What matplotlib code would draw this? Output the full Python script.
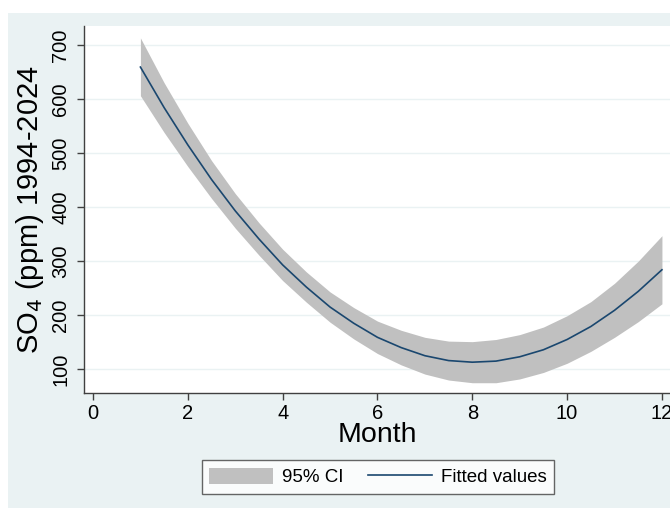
import matplotlib
matplotlib.use("Agg")
import matplotlib.pyplot as plt
from matplotlib.patches import Rectangle, Patch
from matplotlib.lines import Line2D

plt.rcParams['font.family'] = ['Liberation Sans', 'DejaVu Sans']

# Quadratic fit of monthly SO4 with its 95% confidence band
month = [1, 1.5, 2, 2.5, 3, 3.5, 4, 4.5, 5, 5.5, 6, 6.5,
         7, 7.5, 8, 8.5, 9, 9.5, 10, 10.5, 11, 11.5, 12]
fitted = [659, 584, 515, 451, 393, 341, 293, 252, 215, 185, 159, 140,
          125, 116, 113, 115, 123, 136, 155, 179, 209, 244, 284]
ci_low = [606, 538, 475, 416, 361, 311, 264, 224, 187, 156, 129, 108,
          91, 80, 75, 75, 82, 94, 111, 133, 159, 188, 221]
ci_high = [713, 630, 555, 486, 425, 371, 322, 280, 243, 214, 189, 172,
           159, 152, 151, 155, 164, 178, 199, 225, 259, 300, 347]

x_ticks = [0, 2, 4, 6, 8, 10, 12]
y_ticks = [100, 200, 300, 400, 500, 600, 700]

W, H = 670, 508
fig = plt.figure(figsize=(W / 100, H / 100), dpi=100, facecolor='white')
fig.patches.append(Rectangle((8 / W, 0), 1, (H - 13) / H, transform=fig.transFigure,
                             facecolor='#EAF2F3', edgecolor='none', zorder=-10))

ax = fig.add_axes([84 / W, (H - 393) / H, (W - 84) / W, (393 - 26) / H])
ax.set_facecolor('white')

ax.fill_between(month, ci_low, ci_high, color='#C0C0C0', linewidth=0, zorder=2)
ax.plot(month, fitted, color='#1A476F', linewidth=1.2, zorder=3)

ax.set_xlim(-0.19, 12.17)
ax.set_ylim(56, 735)
ax.set_xticks(x_ticks)
ax.set_yticks(y_ticks)
ax.grid(axis='y', color='#EAF2F3', linewidth=1.0, zorder=0)
ax.set_axisbelow(True)

for side in ('top', 'right'):
    ax.spines[side].set_visible(False)
for side in ('left', 'bottom'):
    ax.spines[side].set_color('#404040')
    ax.spines[side].set_linewidth(1.0)

ax.tick_params(axis='both', direction='out', length=5, width=1.0, color='#404040',
               labelsize=14.5, labelcolor='black')
ax.tick_params(axis='x', pad=3)
ax.tick_params(axis='y', pad=5)
for lbl in ax.get_yticklabels():
    lbl.set_rotation(90)
    lbl.set_va('center')

ax.set_xlabel('Month', fontsize=20.5, labelpad=-1)
ax.set_ylabel('SO$_4$ (ppm) 1994-2024', fontsize=21, labelpad=4)

handles = [Patch(facecolor='#C0C0C0', edgecolor='none', label='95% CI'),
           Line2D([0], [0], color='#1A476F', linewidth=1.2, label='Fitted values')]
leg = fig.legend(handles=handles, loc='center', bbox_to_anchor=(378 / W, 1 - 477 / H),
                 ncol=2, fontsize=13.5, frameon=True, fancybox=False,
                 handlelength=3.4, handleheight=1.0, handletextpad=0.5,
                 columnspacing=1.3, borderpad=0.4)
leg.get_frame().set_edgecolor('#404040')
leg.get_frame().set_linewidth(1.0)
leg.get_frame().set_facecolor('white')

fig.savefig('out.png', dpi=100, facecolor='white')
